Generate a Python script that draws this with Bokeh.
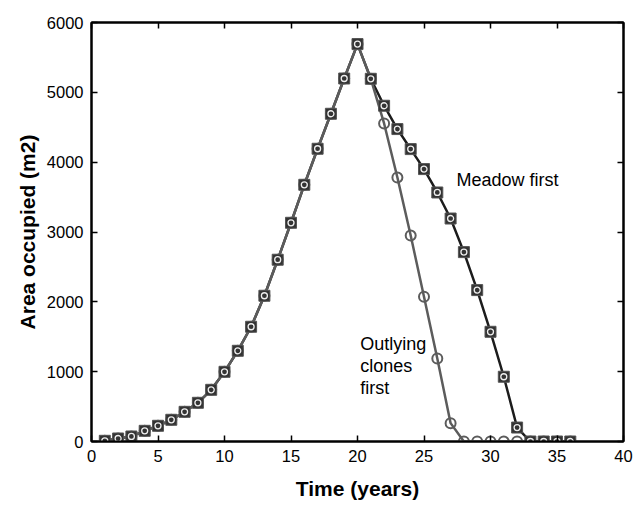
from bokeh.plotting import figure
from bokeh.models import LinearAxis, SingleIntervalTicker, ColumnDataSource, Label
from bokeh.embed import file_html
from bokeh.resources import INLINE

# ---- data ----
time_years = list(range(1, 37))
meadow_first = [10, 43, 72, 153, 225, 311, 425, 554, 740, 998, 1299, 1643, 2087, 2603,
                3132, 3676, 4192, 4693, 5198, 5691, 5194, 4808, 4474, 4187, 3901, 3566,
                3193, 2712, 2168, 1571, 927, 200, 0, 0, 0, 0]
outlying_first = [10, 43, 72, 153, 225, 311, 425, 554, 740, 998, 1299, 1643, 2087, 2603,
                  3132, 3676, 4192, 4693, 5198, 5691, 5194, 4554, 3781, 2950, 2072, 1189,
                  263, 0, 0, 0, 0, 0, 0, 0, 0, 0]
x_ticks_step = 5
y_ticks_step = 1000
label_meadow = "Meadow first"
label_outlying = ["Outlying", "clones", "first"]
label_meadow_pos = (27.45, 3750)
label_outlying_pos = (20.2, [1400, 1085, 770])

FONT = "Liberation Sans"

p = figure(width=635, height=505, x_range=(0, 40), y_range=(0, 6000),
           output_backend="svg", toolbar_location=None,
           min_border_left=91, min_border_right=12, min_border_top=22, min_border_bottom=64)
p.grid.visible = False
p.background_fill_color = "white"
p.border_fill_color = "white"
p.outline_line_color = "black"
p.outline_line_width = 2

p.xaxis.ticker = SingleIntervalTicker(interval=x_ticks_step, num_minor_ticks=0)
p.yaxis.ticker = SingleIntervalTicker(interval=y_ticks_step, num_minor_ticks=0)

for ax in (p.xaxis[0], p.yaxis[0]):
    ax.major_tick_in = 6
    ax.major_tick_out = 0
    ax.minor_tick_line_color = None
    ax.axis_line_width = 2
    ax.major_tick_line_width = 1.5
    ax.major_label_text_font = FONT
    ax.major_label_text_font_size = "16.5px"
    ax.major_label_text_color = "black"
    ax.axis_label_text_font = FONT
    ax.axis_label_text_font_size = "21px"
    ax.axis_label_text_font_style = "bold"
    ax.axis_label_text_color = "black"

p.xaxis.major_label_standoff = 8
p.yaxis.major_label_standoff = 8
p.xaxis.axis_label = "Time (years)"
p.yaxis.axis_label = "Area occupied (m2)"
p.xaxis.axis_label_standoff = 12
p.yaxis.axis_label_standoff = 5

top = LinearAxis(ticker=SingleIntervalTicker(interval=x_ticks_step, num_minor_ticks=0))
right = LinearAxis(ticker=SingleIntervalTicker(interval=y_ticks_step, num_minor_ticks=0))
for ax in (top, right):
    ax.major_tick_in = 6
    ax.major_tick_out = 0
    ax.minor_tick_line_color = None
    ax.axis_line_width = 2
    ax.major_tick_line_width = 1.5
    ax.major_label_text_font_size = "0px"
    ax.major_label_text_color = None
    ax.major_label_standoff = 0
p.add_layout(top, "above")
p.add_layout(right, "right")

src = ColumnDataSource(dict(t=time_years, meadow=meadow_first, outlying=outlying_first))

p.line("t", "meadow", source=src, line_color="#1c1c1c", line_width=2.5)
p.line("t", "outlying", source=src, line_color="#5c5c5c", line_width=2.5)
p.scatter("t", "outlying", source=src, marker="circle", size=10, fill_color=None,
          line_color="#5c5c5c", line_width=2)
p.scatter("t", "meadow", source=src, marker="square", size=11, fill_color="#333333",
          line_color="#555555", line_width=1)
p.scatter("t", "meadow", source=src, marker="circle", size=6, fill_color=None,
          line_color="#eeeeee", line_width=1.3)

p.add_layout(Label(x=label_meadow_pos[0], y=label_meadow_pos[1], text=label_meadow,
                   text_font=FONT, text_font_size="18px", text_color="black",
                   text_baseline="middle", text_align="left"))
for txt, yy in zip(label_outlying, label_outlying_pos[1]):
    p.add_layout(Label(x=label_outlying_pos[0], y=yy, text=txt,
                       text_font=FONT, text_font_size="18px", text_color="black",
                       text_baseline="middle", text_align="left"))

open("out.html", "w").write(file_html(p, INLINE))
